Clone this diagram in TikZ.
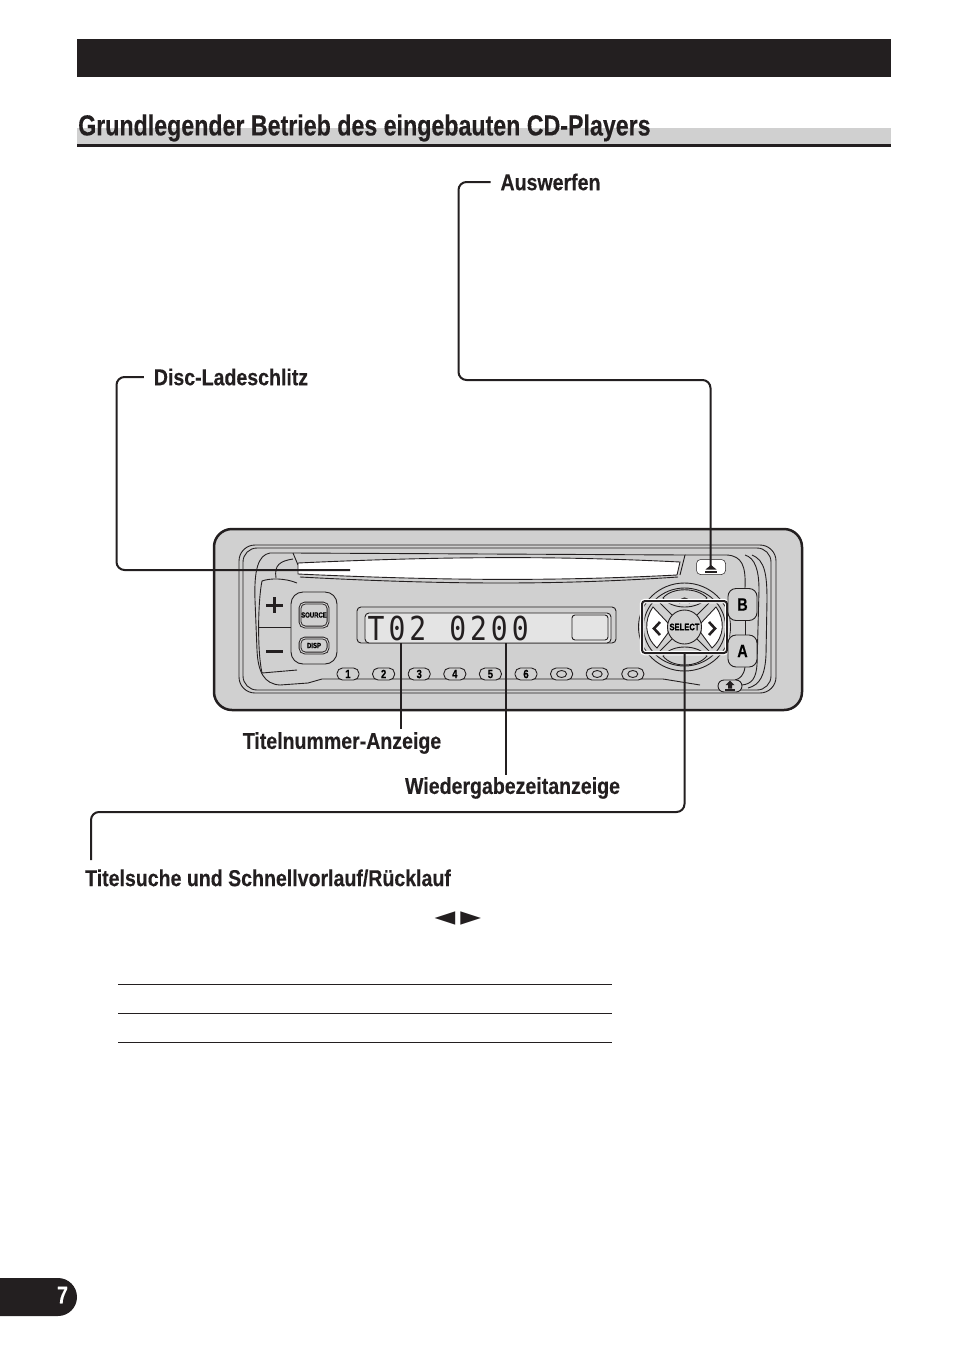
\documentclass[tikz,border=0pt]{standalone}
\usepackage{fontspec}
\usetikzlibrary{positioning, calc}
\newfontfamily\condfont{Liberation Sans}[FakeStretch=0.8, FakeBold=0.3]
\newfontfamily\labelfont{Liberation Sans}[FakeStretch=0.85, FakeBold=0.3]
\newfontfamily\lcdfont{DejaVu Sans Mono}[FakeStretch=0.85, LetterSpace=12]
\newfontfamily\symfont{DejaVu Sans}
\definecolor{myblack}{RGB}{35, 31, 32}
\definecolor{mygray}{RGB}{208, 208, 208}
\definecolor{mylcd}{RGB}{228, 228, 228}
\tikzset{
    lbl/.style={font=\labelfont\bfseries\fontsize{23}{26}\selectfont, text=myblack, inner sep=0pt, outer xsep=10pt},
    callout/.style={draw=myblack, line width=2pt, rounded corners=8pt},
    outline/.style={draw=myblack, line width=0.9pt},
    key/.style={outline, rounded corners=5pt, fill=mygray, inner sep=0pt, font=\condfont\bfseries\fontsize{12}{12}\selectfont},
    preset/.style={key, minimum width=22pt, minimum height=12pt, rounded corners=5.5pt},
    rule/.style={draw=myblack, line width=0.9pt}
}
\begin{document}
\begin{tikzpicture}[x=1pt, y=-1pt]
    \useasboundingbox (0,0) rectangle (954,1355);

    % Kopfzeile
    \fill[myblack] (77,39) rectangle (891,77);
    \fill[mygray] (77,128) rectangle (891,144);
    \fill[myblack] (77,144) rectangle (891,147);
    \node[anchor=west, inner sep=0pt, text=myblack, font=\condfont\bfseries\fontsize{29}{32}\selectfont] (title) at (78,128) {Grundlegender Betrieb des eingebauten CD-Players};

    % Gerät
    \draw[draw=myblack, line width=2.5pt, fill=mygray, rounded corners=18pt] (214,529) rectangle (802,710);
    \draw[outline, rounded corners=16pt] (239,545) rectangle (776,693);
    \draw[outline, rounded corners=14pt] (243,548) rectangle (771,690);

    % Schlitz
    \draw[outline] (293,553) -- (685,555) -- (680,575);
    \draw[outline] (293,553) -- (298,565);
    \draw[outline] (276,578) .. controls (274,565) and (280,561) .. (293,559);
    \draw[outline] (300,577) .. controls (450,585) and (560,585) .. (678,577);
    \draw[outline, fill=white] (298,563) .. controls (450,556) and (560,556) .. (680,562) -- (677,575) .. controls (560,581) and (450,581) .. (298,574) -- cycle;

    % Innenkontur
    \draw[outline] (293,553) -- (270,553) .. controls (258,555) and (254,570) .. (255,600) -- (257,650) .. controls (258,672) and (264,684) .. (280,685) -- (308,683) -- (322,679) -- (663,679) -- (700,685);
    \draw[outline] (685,555) -- (727,555) .. controls (742,556) and (746,566) .. (745,588);
    \draw[outline] (745,555) .. controls (755,558) and (759,570) .. (759,590) -- (757,665) .. controls (756,678) and (752,684) .. (742,685);
    \draw[outline] (752,555) .. controls (765,560) and (767,575) .. (767,600) -- (766,655) .. controls (765,675) and (760,685) .. (748,688);
    \draw[outline] (745,667) .. controls (744,675) and (740,679) .. (735,680);

    % Lautstärke
    \draw[outline] (297,583) .. controls (285,578) and (270,578) .. (262,581) .. controls (258,600) and (257,650) .. (262,673) -- (297,670);
    \draw[outline] (259,627) -- (291,627);
    \draw[myblack, line width=3pt] (266,605) -- (283,605) (274.5,597) -- (274.5,613) (266,651) -- (283,651);

    % SOURCE und DISP
    \node[key, minimum width=46pt, minimum height=72pt, rounded corners=12pt] (grp_src) at (314,628) {};
    \node[key, minimum width=28pt, minimum height=24pt, double=mygray, double distance=1pt, font=\condfont\bfseries\fontsize{7.5}{8}\selectfont] (btn_source) at (314,615) {SOURCE};
    \node[key, minimum width=28pt, minimum height=15pt, double=mygray, double distance=1pt, font=\condfont\bfseries\fontsize{7.5}{8}\selectfont] (btn_disp) at (314,645.5) {DISP};

    % Anzeige
    \draw[outline, rounded corners=4pt] (357,607) rectangle (616,643);
    \draw[outline, fill=mylcd, rounded corners=4pt] (365,613) rectangle (611,643);
    \draw[outline, rounded corners=3pt] (572,615) rectangle (608,640);
    \node[font=\lcdfont\fontsize{33}{33}\selectfont, text=myblack, inner sep=0pt] (lcd_track) at (397,628) {T02};
    \node[font=\lcdfont\fontsize{33}{33}\selectfont, text=myblack, inner sep=0pt] (lcd_time) at (489,628) {0200};

    % Stationstasten
    \foreach \val [count=\i from 0] in {1, 2, 3, 4, 5, 6} {
        \node[preset] (preset\i) at (348+\i*35.6, 674) {\val};
    }
    \foreach \i in {6, 7, 8} {
        \node[preset] (preset\i) at (348+\i*35.6, 674) {};
        \draw[outline] (348+\i*35.6, 674) ellipse (5 and 3.5);
    }

    % Kreuztaste
    \draw[outline] (684.5,627) ellipse (46 and 44);
    \draw[outline] (684.5,627) ellipse (41 and 39);
    \draw[outline, fill=mygray] (663,598) .. controls (672,587) and (697,587) .. (707,598) .. controls (697,610) and (672,610) .. (663,598) -- cycle;
    \draw[outline, fill=mygray] (663,656) .. controls (672,668) and (697,668) .. (707,656) .. controls (697,644) and (672,644) .. (663,656) -- cycle;
    \draw[myblack, line width=2pt] (679,603) .. controls (682,597) and (687,597) .. (690,603);
    \draw[outline] (660,603) -- (672,615) (709,603) -- (697,615) (660,651) -- (672,639) (709,651) -- (697,639);
    \draw[outline, fill=white] (653,607) -- (668,623) -- (668,633) -- (657,648) .. controls (644,636) and (644,620) .. (653,607) -- cycle;
    \draw[outline, fill=white] (716,607) -- (701,623) -- (701,633) -- (712,648) .. controls (725,636) and (725,620) .. (716,607) -- cycle;
    \draw[myblack, line width=2.6pt] (660,622) -- (654,628.5) -- (660,635);
    \draw[myblack, line width=2.6pt] (709,622) -- (715,628.5) -- (709,635);
    \node[outline, circle, fill=mygray, minimum size=34pt, inner sep=0pt, font=\condfont\bfseries\fontsize{9.5}{10}\selectfont] (btn_select) at (684.5,627) {SELECT};
    \draw[draw=white, line width=4.5pt, rounded corners=3pt] (642,601) rectangle (727,653);
    \node[draw=myblack, line width=2pt, rounded corners=3pt, minimum width=85pt, minimum height=52pt, inner sep=0pt] (box_search) at (684.5,627) {};

    % Tasten B und A, Auswurf
    \node[key, rounded corners=8pt, minimum width=29pt, minimum height=32pt, font=\condfont\bfseries\fontsize{18}{18}\selectfont] (btn_b) at (742.5,604.5) {B};
    \node[key, rounded corners=8pt, minimum width=29pt, minimum height=32pt, font=\condfont\bfseries\fontsize{18}{18}\selectfont] (btn_a) at (742.5,651) {A};
    \draw[outline] (745,620.5) -- (745,635);
    \node[draw=myblack, line width=0.5pt, fill=white, rounded corners=4pt, minimum width=29pt, minimum height=15pt, inner sep=0pt] (btn_eject) at (711,567) {};
    \fill[myblack] (705,570.5) rectangle (717,572.5);
    \fill[myblack] (705.5,569.5) -- (711,565) -- (716.5,569.5) -- cycle;
    \node[key, rounded corners=6pt, minimum width=24pt, minimum height=12pt] (btn_detach) at (730,686) {};
    \fill[myblack] (725,689) rectangle (735,690.5);
    \fill[myblack] (725.5,685) -- (730,680.5) -- (734.5,685) -- (732,685) -- (732,688.5) -- (728,688.5) -- (728,685) -- cycle;

    % Beschriftungen
    \node[lbl] (lbl_eject) at (550.5,182) {Auswerfen};
    \node[lbl] (lbl_slot) at (231,377) {Disc-Ladeschlitz};
    \node[lbl] (lbl_track) at (342,743) {Titelnummer-Anzeige};
    \node[lbl] (lbl_time) at (512.5,788) {Wiedergabezeitanzeige};
    \node[lbl] (lbl_search) at (268,878) {Titelsuche und Schnellvorlauf/Rücklauf};

    % Hinweislinien
    \coordinate (eject_bend) at (458.5,380);
    \coordinate (eject_tip) at (710.5,566);
    \coordinate (slot_bend) at (116.5,570);
    \coordinate (slot_end) at (350,570);
    \coordinate (track_start) at (401,643);
    \coordinate (track_end) at (401,729);
    \coordinate (time_start) at (506,643);
    \coordinate (time_end) at (506,775);
    \coordinate (search_bend) at (91,812);
    \coordinate (search_end) at (91,860);
    \draw[callout] (lbl_eject.west) -| (eject_bend) -| (eject_tip);
    \draw[callout] (lbl_slot.west) -| (slot_bend) -- (slot_end);
    \draw[callout] (track_start) -- (track_end);
    \draw[callout] (time_start) -- (time_end);
    \draw[callout] (box_search.south) |- (search_bend) -- (search_end);

    % Pfeile und Tabelle
    \node[font=\symfont\fontsize{27}{27}\selectfont, text=myblack, inner sep=0pt] (sym_arrows) at (458,919) {◄\kern5pt►};
    \foreach \y in {984.5, 1013.5, 1042.5} {
        \draw[rule] (118,\y) -- (612,\y);
    }

    % Seitenzahl
    \fill[myblack] (0,1278) -- (58,1278) arc (90:-90:19 and -19) -- (0,1316) -- cycle;
    \node[text=white, inner sep=0pt, font=\condfont\bfseries\fontsize{24}{24}\selectfont] (page_no) at (62.5,1295) {7};
\end{tikzpicture}
\end{document}
